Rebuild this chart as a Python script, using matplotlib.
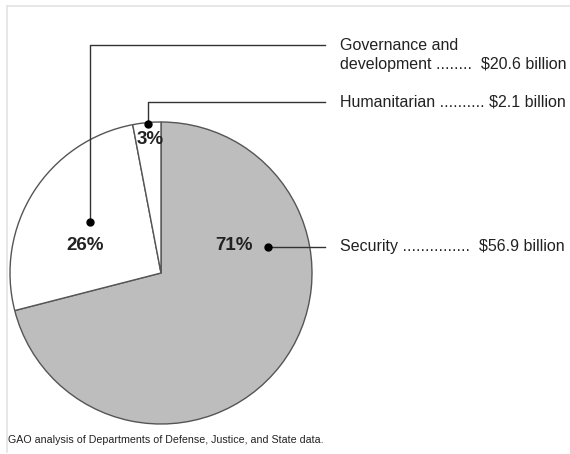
import matplotlib
matplotlib.use("Agg")
import matplotlib.pyplot as plt
from matplotlib.lines import Line2D

# ---- data ----
categories = ["Security", "Governance and development", "Humanitarian"]
shares = [71, 26, 3]
amounts = ["$56.9 billion", "$20.6 billion", "$2.1 billion"]
pct_labels = ["71%", "26%", "3%"]
colors = ["#bdbdbd", "#ffffff", "#ffffff"]
source = "GAO analysis of Departments of Defense, Justice, and State data."

W, H = 570, 454
plt.rcParams['font.family'] = ['Liberation Sans', 'DejaVu Sans']
fig = plt.figure(figsize=(W / 100, H / 100), dpi=100)
ax = fig.add_axes([0, 0, 1, 1])
ax.set_xlim(0, W)
ax.set_ylim(0, H)
ax.set_aspect('equal')
ax.axis('off')

def P(x, y):
    return (x, H - y)

ax.pie(shares, colors=colors, startangle=90, counterclock=False,
       center=P(161, 273), radius=151,
       wedgeprops=dict(edgecolor="#555555", linewidth=1.0))
ax.set_xlim(0, W)
ax.set_ylim(0, H)

tc = "#222222"
lc = "#333333"

# percentage labels
pct_pos = [(234, 246), (85, 246), (150, 140)]
for lab, (x, y) in zip(pct_labels, pct_pos):
    ax.text(*P(x, y), lab, ha='center', va='center', fontsize=13.5,
            fontweight='bold', color=tc)

# leader lines: dot -> (path) -> text
text_x = 340
line_end = 325
fs = 11.5
# Security
ax.plot(*zip(P(268, 247), P(line_end, 247)), color=lc, lw=1)
ax.plot(*P(268, 247), 'o', color='black', ms=5)
ax.text(*P(text_x, 247), f"Security ...............  {amounts[0]}", ha='left',
        va='center', fontsize=fs, color=tc)
# Governance
ax.plot(*zip(P(90, 222), P(90, 45), P(line_end, 45)), color=lc, lw=1)
ax.plot(*P(90, 222), 'o', color='black', ms=5)
ax.text(*P(text_x, 45), "Governance and", ha='left', va='center',
        fontsize=fs, color=tc)
ax.text(*P(text_x, 64), f"development ........  {amounts[1]}", ha='left',
        va='center', fontsize=fs, color=tc)
# Humanitarian
ax.plot(*zip(P(148, 124), P(148, 102), P(line_end, 102)), color=lc, lw=1)
ax.plot(*P(148, 124), 'o', color='black', ms=5)
ax.text(*P(text_x, 102), f"Humanitarian .......... {amounts[2]}", ha='left',
        va='center', fontsize=fs, color=tc)

# source
ax.text(*P(8, 440), source, ha='left', va='center', fontsize=7.7, color=tc)

# light frame (top and left)
fig.add_artist(Line2D([7 / W, 1], [1 - 6 / H, 1 - 6 / H], color="#e3e3e3", lw=1.2))
fig.add_artist(Line2D([7 / W, 7 / W], [1 - 6 / H, 1 - 452 / H], color="#e3e3e3", lw=1.2))

fig.savefig("out.png", dpi=100, facecolor='white')
